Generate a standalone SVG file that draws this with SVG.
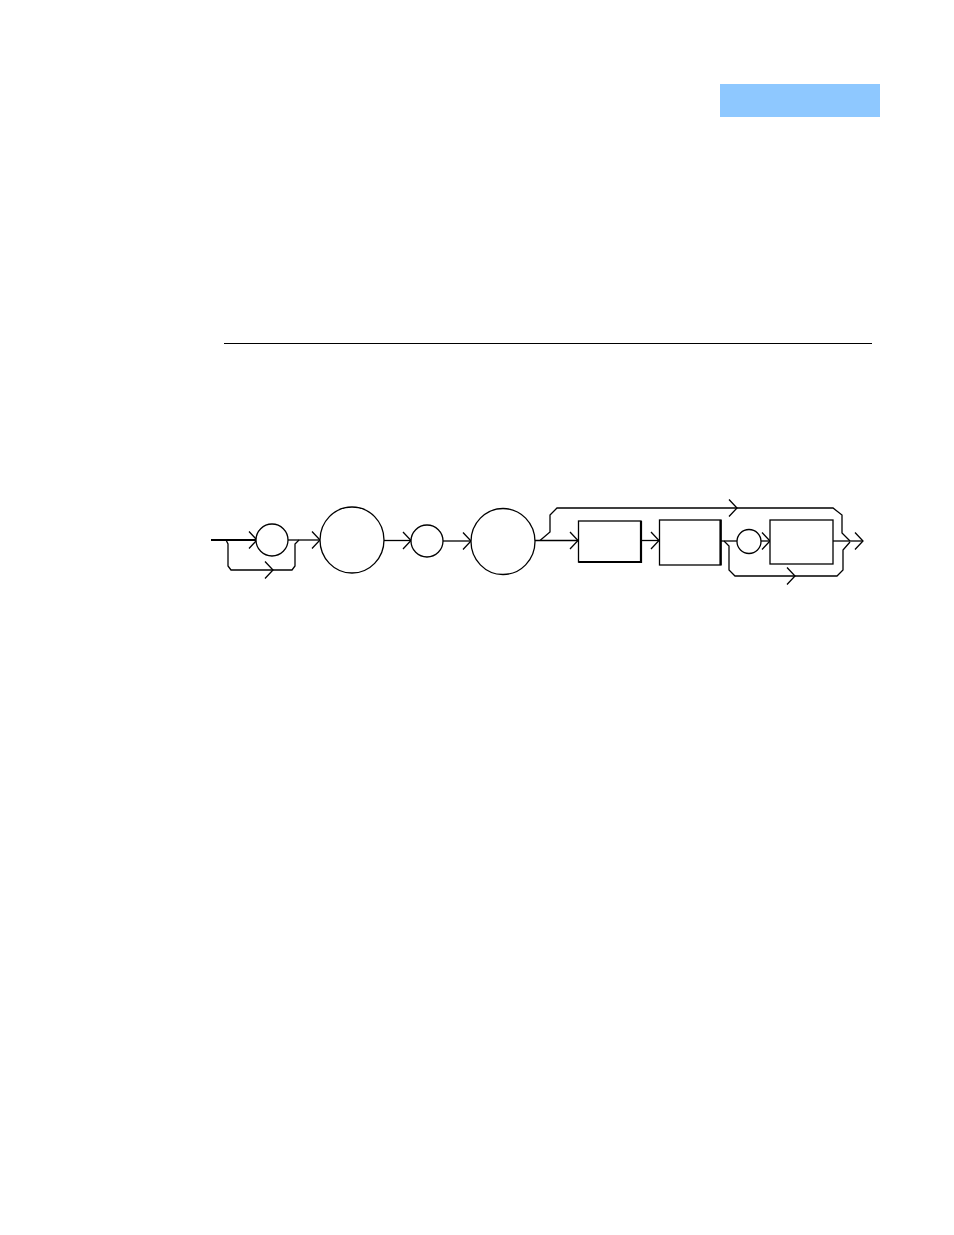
<svg xmlns="http://www.w3.org/2000/svg" xmlns:xlink="http://www.w3.org/1999/xlink" width="954" height="1235" viewBox="0 0 954 1235">
<style>
.ln{fill:none;stroke:#000;stroke-width:1.3;stroke-linejoin:miter}
.nd{fill:#fff;stroke:#000;stroke-width:1.3}
.sh{stroke:#000;stroke-width:2.2}
</style>
<defs>
<path id="chev" d="M-8,-8.5 L0,0 L-8,8.5" fill="none" stroke="#000" stroke-width="1.3"/>
</defs>
<rect x="0" y="0" width="954" height="1235" fill="#fff"/>
<rect id="tab" x="720" y="84" width="160" height="33" fill="#8EC8FF"/>
<line x1="224" y1="343.5" x2="872" y2="343.5" stroke="#000" stroke-width="1.2"/>
<g id="connectors">
<line x1="211" y1="540" x2="256" y2="540" stroke="#000" stroke-width="2.2"/>
<use xlink:href="#chev" x="257" y="540"/>
<path class="ln" d="M226,540 L228,544 L228,566 L231,570 L292,570 L295,566 L295,544 L299,540"/>
<use xlink:href="#chev" x="273" y="570"/>
<line class="ln" x1="288" y1="540" x2="320" y2="540"/>
<use xlink:href="#chev" x="320" y="540"/>
<line class="ln" x1="384" y1="540.5" x2="411" y2="540.5"/>
<use xlink:href="#chev" x="411" y="540.5"/>
<line class="ln" x1="443" y1="541" x2="471" y2="541"/>
<use xlink:href="#chev" x="471" y="541"/>
<line class="ln" x1="535" y1="540.5" x2="578" y2="540.5"/>
<use xlink:href="#chev" x="578" y="540.5"/>
<path class="ln" d="M540,540.5 L550,532 L550,515 L557,508 L833,508 L842,515 L842,533 L850,541"/>
<use xlink:href="#chev" x="737" y="508"/>
<line class="ln" x1="641" y1="540.5" x2="659" y2="540.5"/>
<use xlink:href="#chev" x="659" y="540.5"/>
<line class="ln" x1="721" y1="541" x2="737" y2="541"/>
<line class="ln" x1="761" y1="541" x2="770" y2="541"/>
<use xlink:href="#chev" x="770" y="541"/>
<path class="ln" d="M724,541 L729,546 L729,570 L735,576 L837,576 L843,570 L843,550 L850,542"/>
<use xlink:href="#chev" x="795" y="576"/>
<line class="ln" x1="833" y1="541" x2="863" y2="541"/>
<use xlink:href="#chev" x="863" y="541"/>
</g>
<g id="n1"><circle class="nd" cx="272" cy="540" r="16"/></g>
<g id="n2"><ellipse class="nd" cx="352" cy="540" rx="32" ry="33"/></g>
<g id="n3"><circle class="nd" cx="427" cy="541" r="16"/></g>
<g id="n4"><ellipse class="nd" cx="503" cy="541.5" rx="32" ry="33"/></g>
<g id="n5"><rect class="nd" x="578.5" y="521" width="62.5" height="41"/>
<path class="sh" fill="none" d="M641,521 L641,562 L578.5,562"/></g>
<g id="n6"><rect class="nd" x="659.5" y="520" width="61.5" height="45"/>
<line class="sh" x1="720.5" y1="520" x2="720.5" y2="565" stroke-width="3"/></g>
<g id="n7"><circle class="nd" cx="749" cy="541.5" r="12"/></g>
<g id="n8"><rect class="nd" x="770" y="520" width="63" height="44"/></g>
</svg>
